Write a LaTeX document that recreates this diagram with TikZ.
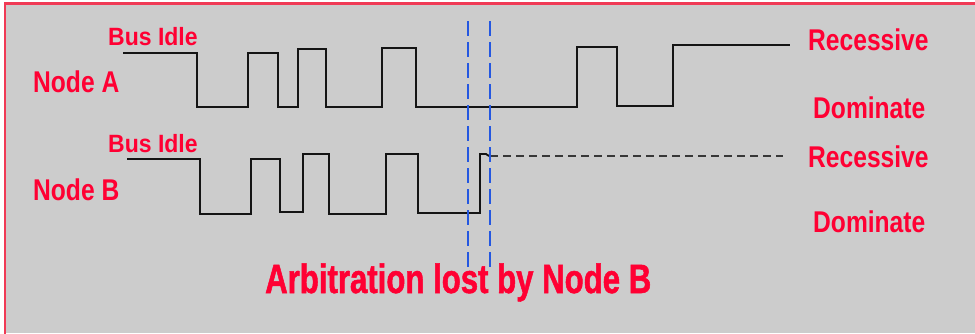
\documentclass[tikz,border=0pt]{standalone}
\usepackage{fontspec}
\setmainfont{Liberation Sans}
\newfontfamily\labfont[FakeStretch=0.82]{Liberation Sans}
\newfontfamily\idlefont[FakeStretch=0.92]{Liberation Sans}
\newfontfamily\bigfont[FakeStretch=0.76,FakeBold=1.2]{Liberation Sans}
\definecolor{bg}{HTML}{CCCCCC}
\definecolor{lab}{HTML}{FF0033}
\definecolor{frame}{HTML}{F03A55}
\definecolor{wave}{HTML}{141414}
\definecolor{mark}{HTML}{2457E0}
\begin{document}
\begin{tikzpicture}[x=1pt,y=-1pt,
  lbl/.style={text=lab, inner sep=0pt, anchor=base west, font=\labfont\bfseries\fontsize{30}{30}\selectfont},
  idle/.style={text=lab, inner sep=0pt, anchor=base west, font=\idlefont\bfseries\fontsize{25}{25}\selectfont},
  big/.style={text=lab, inner sep=0pt, anchor=base west, font=\bigfont\bfseries\fontsize{41}{41}\selectfont},
  sig/.style={draw=wave, line width=1.9pt, line join=miter},
  sigdash/.style={draw=wave!85!white, line width=1.9pt, dash pattern=on 8pt off 5pt},
  marker/.style={draw=mark, line width=2.2pt, dash pattern=on 15pt off 6pt}]
\useasboundingbox (0,0) rectangle (975,333);
\fill[white] (0,0) rectangle (975,333);
\fill[bg] (5,3.5) rectangle (975,333);
\draw[frame, line width=2.5pt] (5,340) -- (5,3.5) -- (980,3.5);

% Node A waveform
\draw[sig] (123,53) -- (197,53) -- (197,107) -- (248,107) -- (248,53) -- (278,53) -- (278,107)
  -- (298,107) -- (298,49) -- (326,49) -- (326,107) -- (382,107) -- (382,48) -- (416,48)
  -- (416,107) -- (577,107) -- (577,47) -- (617,47) -- (617,106) -- (673,106) -- (673,45) -- (790,45);

% Node B waveform
\draw[sig] (127,159) -- (200,159) -- (200,214) -- (251,214) -- (251,159) -- (280,159) -- (280,212)
  -- (303,212) -- (303,154) -- (329,154) -- (329,214) -- (386,214) -- (386,154) -- (418,154)
  -- (418,213) -- (480,213) -- (480,154) -- (486,154) -- (489,156);
\coordinate (bstart) at (490,156);
\coordinate (bend) at (783,156);
\draw[sigdash] (bstart) -- (bend);

% arbitration markers
\coordinate (m1t) at (468,21);
\coordinate (m1b) at (468,270);
\coordinate (m2t) at (490,21);
\coordinate (m2b) at (490,270);
\draw[marker] (m1t) -- (m1b);
\draw[marker] (m2t) -- (m2b);

% labels
\node[idle] (idleA) at (108,45) {Bus Idle};
\node[lbl] (nodeA) at (33,92) {Node A};
\node[idle] (idleB) at (108,152) {Bus Idle};
\node[lbl] (nodeB) at (33,200) {Node B};
\node[lbl] (recA) at (808,50) {Recessive};
\node[lbl] (domA) at (813,118) {Dominate};
\node[lbl] (recB) at (808,167) {Recessive};
\node[lbl] (domB) at (813,232) {Dominate};
\node[big] (lost) at (265,293) {Arbitration lost by Node B};
\end{tikzpicture}
\end{document}
